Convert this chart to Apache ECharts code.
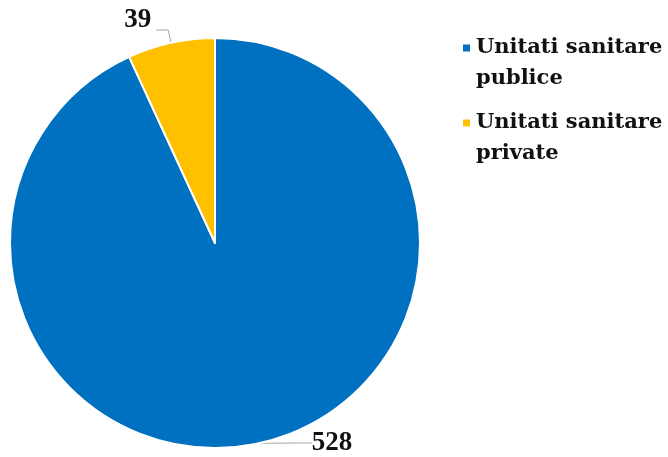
<!DOCTYPE html>
<html>
<head>
<meta charset="utf-8">
<script src="https://cdn.jsdelivr.net/npm/echarts@6/dist/echarts.min.js"></script>
<style>
  html, body { margin: 0; padding: 0; background: #ffffff; }
  #chart { width: 668px; height: 457px; }
</style>
</head>
<body>
<div id="chart"></div>
<script>
// Number of health units by ownership
const categories = ['Unitati sanitare publice', 'Unitati sanitare private'];
const values = [528, 39];
const colors = ['#0070C0', '#FFC000'];
const legendNames = ['Unitati sanitare\npublice', 'Unitati sanitare\nprivate'];

const serif = '"Liberation Serif", "Times New Roman", serif';
const legendFont = '"DejaVu Serif", "Liberation Serif", serif';

const chart = echarts.init(document.getElementById('chart'), null, { renderer: 'canvas' });

// One legend block per category; a leading blank line keeps the marker
// level with the first line of the wrapped name.
const legendTops = [1.5, 76.5];
const legends = categories.map((name, i) => ({
  data: [name],
  orient: 'vertical',
  left: 461,
  top: legendTops[i],
  padding: 0,
  itemWidth: 9,
  itemHeight: 9,
  icon: 'rect',
  formatter: () => '\n' + legendNames[i],
  selectedMode: false,
  textStyle: {
    fontFamily: legendFont,
    fontWeight: 'bold',
    fontSize: 21,
    lineHeight: 31,
    color: '#111111'
  }
}));

chart.setOption({
  animation: false,
  backgroundColor: '#ffffff',
  legend: legends,
  series: [{
    type: 'pie',
    center: [215, 243],
    radius: [0, 205],
    startAngle: 90,
    clockwise: true,
    avoidLabelOverlap: false,
    data: categories.map((name, i) => ({
      name: name,
      value: values[i],
      itemStyle: { color: colors[i] }
    })),
    itemStyle: { borderColor: '#ffffff', borderWidth: 2 },
    label: {
      show: true,
      position: 'outside',
      formatter: '{c}',
      fontFamily: serif,
      fontWeight: 'bold',
      fontSize: 27,
      color: '#111111',
      distanceToLabelLine: 2
    },
    labelLine: {
      show: true,
      length: 13,
      length2: 12,
      lineStyle: { color: '#a6a6a6', width: 1 }
    },
    labelLayout: function (params) {
      if (params.dataIndex === 0) {
        return { x: 332, y: 443, align: 'center', verticalAlign: 'middle' };
      }
      return { dx: -3, dy: -10 };
    },
    emphasis: { disabled: true }
  }]
});
</script>
</body>
</html>
